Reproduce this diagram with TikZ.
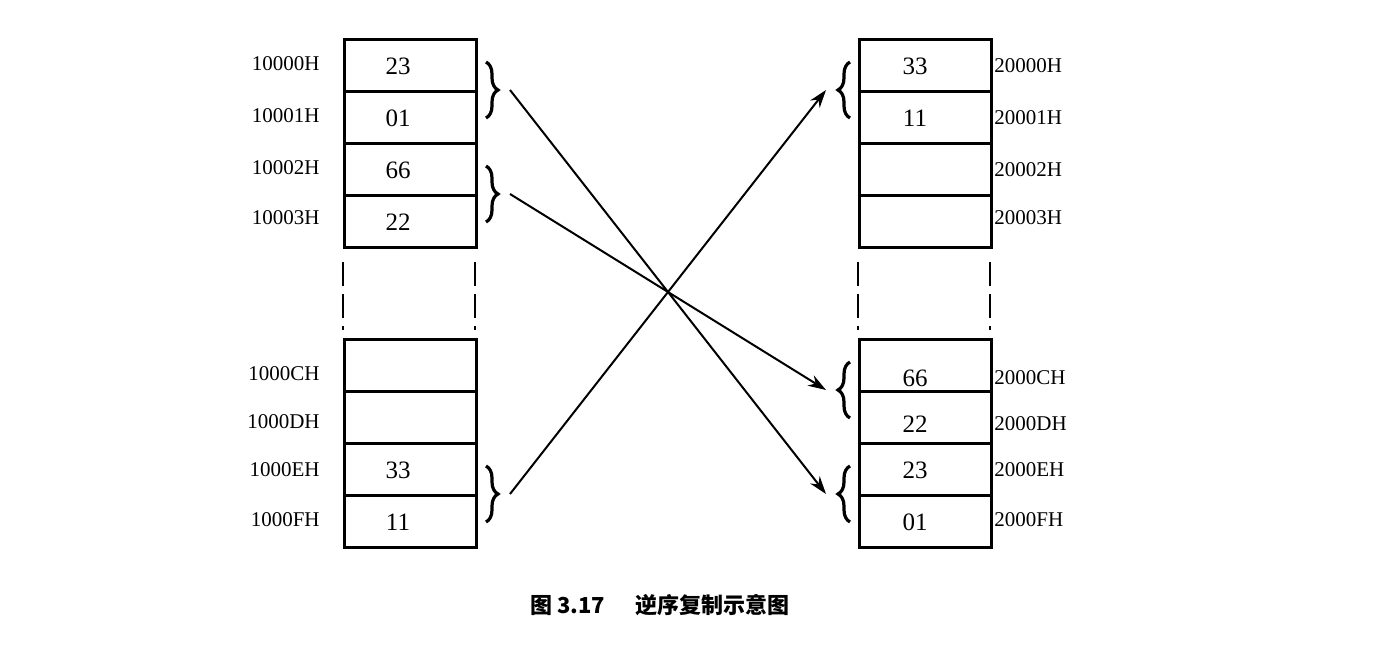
\documentclass[tikz,border=0pt]{standalone}
\usepackage{fontspec}
\setmainfont{Liberation Serif}
\newfontfamily\cjk{Noto Sans CJK SC}
\usetikzlibrary{decorations.pathreplacing,arrows.meta}
\begin{document}
\begin{tikzpicture}[x=0.5pt,y=-0.5pt,
  cell/.style={draw,line width=1.4pt,minimum width=66pt,minimum height=25.9pt,inner sep=0pt,anchor=north west},
  val/.style={font=\fontsize{12.5}{14}\selectfont},
  addr/.style={font=\fontsize{10.5}{12}\selectfont,inner sep=0pt},
  brc/.style={decorate,decoration={brace,amplitude=6pt},line width=1.6pt},
  arr/.style={-{Stealth[length=9pt,width=6pt]},line width=1pt}]
\useasboundingbox (0,0) rectangle (1386,646);
% left column
\foreach \i/\y in {0/38,1/90,2/142,3/194,4/338,5/390,6/442,7/494}{
  \node[cell] (L\i) at (343,\y) {};
  \node[cell] (R\i) at (858,\y) {};
}
\draw[line width=1.4pt,dash pattern=on 12pt off 4pt] (343,262) -- (343,330);
\draw[line width=1.4pt,dash pattern=on 12pt off 4pt] (475,262) -- (475,330);
\draw[line width=1.4pt,dash pattern=on 12pt off 4pt] (858,262) -- (858,330);
\draw[line width=1.4pt,dash pattern=on 12pt off 4pt] (990,262) -- (990,330);
% values
\node[val] at (398,66) {23};
\node[val] at (398,118) {01};
\node[val] at (398,170) {66};
\node[val] at (398,222) {22};
\node[val] at (398,470) {33};
\node[val] at (398,522) {11};
\node[val] at (915,66) {33};
\node[val] at (915,118) {11};
\node[val] at (915,378) {66};
\node[val] at (915,424) {22};
\node[val] at (915,470) {23};
\node[val] at (915,522) {01};
% addresses
\foreach \t/\y in {10000H/64,10001H/116,10002H/168,10003H/218,1000CH/374,1000DH/422,1000EH/470,1000FH/520}
  \node[addr,anchor=east] at (320,\y) {\t};
\foreach \t/\y in {20000H/66,20001H/118,20002H/170,20003H/218,2000CH/378,2000DH/424,2000EH/470,2000FH/520}
  \node[addr,anchor=west] at (994,\y) {\t};
% braces
\draw[brc] (486,62) -- (486,118) coordinate[pos=.5] (bl0);
\draw[brc] (486,166) -- (486,222) coordinate[pos=.5] (bl1);
\draw[brc] (486,466) -- (486,522) coordinate[pos=.5] (bl2);
\draw[brc] (850,118) -- (850,62) coordinate[pos=.5] (br0);
\draw[brc] (850,418) -- (850,362) coordinate[pos=.5] (br1);
\draw[brc] (850,522) -- (850,466) coordinate[pos=.5] (br2);
\coordinate (a0) at (510,90); \coordinate (a1) at (510,194); \coordinate (a2) at (510,494);
\coordinate (b0) at (826,90); \coordinate (b1) at (826,390); \coordinate (b2) at (826,494);
\draw[arr] (a0) -- (b2);
\draw[arr] (a1) -- (b1);
\draw[arr] (a2) -- (b0);
\node[font=\cjk\bfseries\fontsize{11}{13}\selectfont] (cap) at (660,605) {图 3.17\hspace{1.4em}逆序复制示意图};
\end{tikzpicture}
\end{document}
